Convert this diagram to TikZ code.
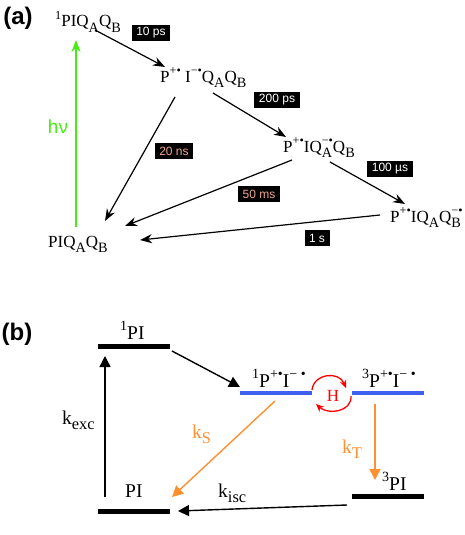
\documentclass[tikz,border=0pt]{standalone}
\usepackage{fontspec}
\setmainfont{Liberation Serif}
\setsansfont{Liberation Sans}
\usetikzlibrary{arrows.meta}
\definecolor{hvgreen}{HTML}{44EE11}
\definecolor{ratepink}{HTML}{F2A58F}
\definecolor{radblue}{HTML}{3F5FEF}
\definecolor{korange}{HTML}{FF8F2F}
\makeatletter
\newsavebox\hibox
\newsavebox\lobox
\newcommand{\hi}[1]{\raisebox{0.42em}{\fontsize{\fpeval{0.72*\f@size}}{1}\selectfont #1}}
\newcommand{\lo}[1]{\raisebox{-0.3em}{\fontsize{\fpeval{0.84*\f@size}}{1}\selectfont #1}}
\newcommand{\hilo}[2]{\sbox\hibox{\hi{#1}}\sbox\lobox{\lo{#2}}%
  \ifdim\wd\hibox>\wd\lobox\rlap{\usebox\lobox}\usebox\hibox\else\rlap{\usebox\hibox}\usebox\lobox\fi}
\makeatother
\tikzset{
  panel/.style={font=\sffamily\bfseries\fontsize{24}{26}\selectfont, inner sep=0pt},
  state/.style={inner sep=0pt, anchor=base west, font=\fontsize{17}{19}\selectfont},
  rate/.style={fill=black, text=white, inner xsep=4.5pt, inner ysep=0pt, minimum height=16pt,
    font=\sffamily\fontsize{12}{13}\selectfont},
  slowrate/.style={rate, text=ratepink},
  trans/.style={-{Stealth[length=12pt,width=9pt]}, line width=1.2pt},
  level/.style={fill=black, minimum width=72pt, minimum height=5pt, inner sep=0pt},
  radlevel/.style={level, fill=radblue, minimum height=4pt},
  lbl/.style={inner sep=0pt, anchor=base west, font=\fontsize{19.5}{21}\selectfont},
  btrans/.style={-{Triangle[length=11pt,width=11pt]}, line width=1.4pt},
}
\begin{document}
\begin{tikzpicture}[x=1pt,y=-1pt]
  \useasboundingbox (0,0) rectangle (464,535);
  % (a) electron transfer scheme
  \node[panel] (pa) at (18,18) {(a)};
  \node[state] (s1) at (55,27) {\hi{1}PIQ\lo{A}Q\lo{B}};
  \node[state] (s2) at (160,82) {P\hi{+•} I\hi{−•}Q\lo{A}Q\lo{B}};
  \node[state] (s3) at (283,152) {P\hi{+•}IQ\hilo{−•}{A}Q\lo{B}};
  \node[state] (s4) at (390,222) {P\hi{+•}IQ\lo{A}Q\hilo{−•}{B}};
  \node[state] (s0) at (48,247) {PIQ\lo{A}Q\lo{B}};
  % forward steps
  \draw[trans] ([shift={(40,3)}]s1.base west) -- ([shift={(5,-15)}]s2.base west);
  \draw[trans] ([shift={(53,11)}]s2.base west) -- ([shift={(3,-15)}]s3.base west);
  \draw[trans] ([shift={(47,10)}]s3.base west) -- ([shift={(15,-18)}]s4.base west);
  % back to ground state
  \draw[trans] ([shift={(15,15)}]s2.base west) -- ([shift={(57,-26)}]s0.base west);
  \draw[trans] ([shift={(9,8)}]s3.base west) -- ([shift={(77,-21)}]s0.base west);
  \draw[trans] ([shift={(-10,-7)}]s4.base west) -- ([shift={(92,-7)}]s0.base west);
  % excitation
  \draw[trans, hvgreen] ([shift={(28,-20)}]s0.base west) -- ([shift={(21,13)}]s1.base west);
  \node[text=hvgreen, font=\sffamily\fontsize{19}{20}\selectfont, inner sep=0pt] (hv) at (58,127) {hν};
  % rates
  \node[rate] (r1) at (151,33) {10 ps};
  \node[rate] (r2) at (277,100) {200 ps};
  \node[slowrate] (r3) at (174,151) {20 ns};
  \node[rate] (r4) at (390,169) {100 µs};
  \node[slowrate] (r5) at (259,194) {50 ms};
  \node[rate] (r6) at (317,238) {1 s};

  % (b) radical pair levels
  \node[panel] (pb) at (17,334) {(b)};
  \node[level] (e1) at (134,346) {};
  \node[level] (g0) at (134,511) {};
  \node[radlevel] (rs) at (276,393) {};
  \node[radlevel] (rt) at (388,393) {};
  \node[level] (t3) at (388,496) {};
  \node[lbl] (le1) at (120,339) {\hi{1}PI};
  \node[lbl] (lg0) at (125,497) {PI};
  \node[lbl] (lrs) at (252,387) {\hi{1}P\hi{+•}I\hi{− •}};
  \node[lbl] (lrt) at (362,387) {\hi{3}P\hi{+•}I\hi{− •}};
  \node[lbl] (lt3) at (382,490) {\hi{3}PI};
  % transitions
  \draw[btrans] ([shift={(-29,-14)}]g0.center) -- ([shift={(-29,10)}]e1.center);
  \draw[btrans] ([shift={(38,5)}]e1.center) -- ([shift={(-36,-6)}]rs.center);
  \draw[btrans, korange] ([shift={(-1,8)}]rs.center) -- ([shift={(38,-14)}]g0.center);
  \draw[btrans, korange] ([shift={(-13,11)}]rt.center) -- ([shift={(-13,-16)}]t3.center);
  \draw[btrans] ([shift={(-41,9)}]t3.center) -- ([shift={(44,0)}]g0.center);
  \node[lbl] (kexc) at (62,424) {k\lo{exc}};
  \node[lbl, text=korange] (ks) at (192,438) {k\lo{S}};
  \node[lbl, text=korange] (kt) at (342,453) {k\lo{T}};
  \node[lbl] (kisc) at (218,497) {k\lo{isc}};
  % singlet-triplet mixing
  \node[text=red, inner sep=0pt, font=\fontsize{17}{18}\selectfont] (H) at (333,396) {H};
  \draw[red, line width=1.3pt, -{Stealth[length=8pt,width=7pt]}]
    ([shift={(-21,-6)}]H.center) .. controls ([shift={(-19,-23)}]H.center) and ([shift={(6,-25)}]H.center) .. ([shift={(13,-8)}]H.center);
  \draw[red, line width=1.3pt, -{Stealth[length=8pt,width=7pt]}]
    ([shift={(18,0)}]H.center) .. controls ([shift={(19,16)}]H.center) and ([shift={(-5,19)}]H.center) .. ([shift={(-17,8)}]H.center);
\end{tikzpicture}
\end{document}
